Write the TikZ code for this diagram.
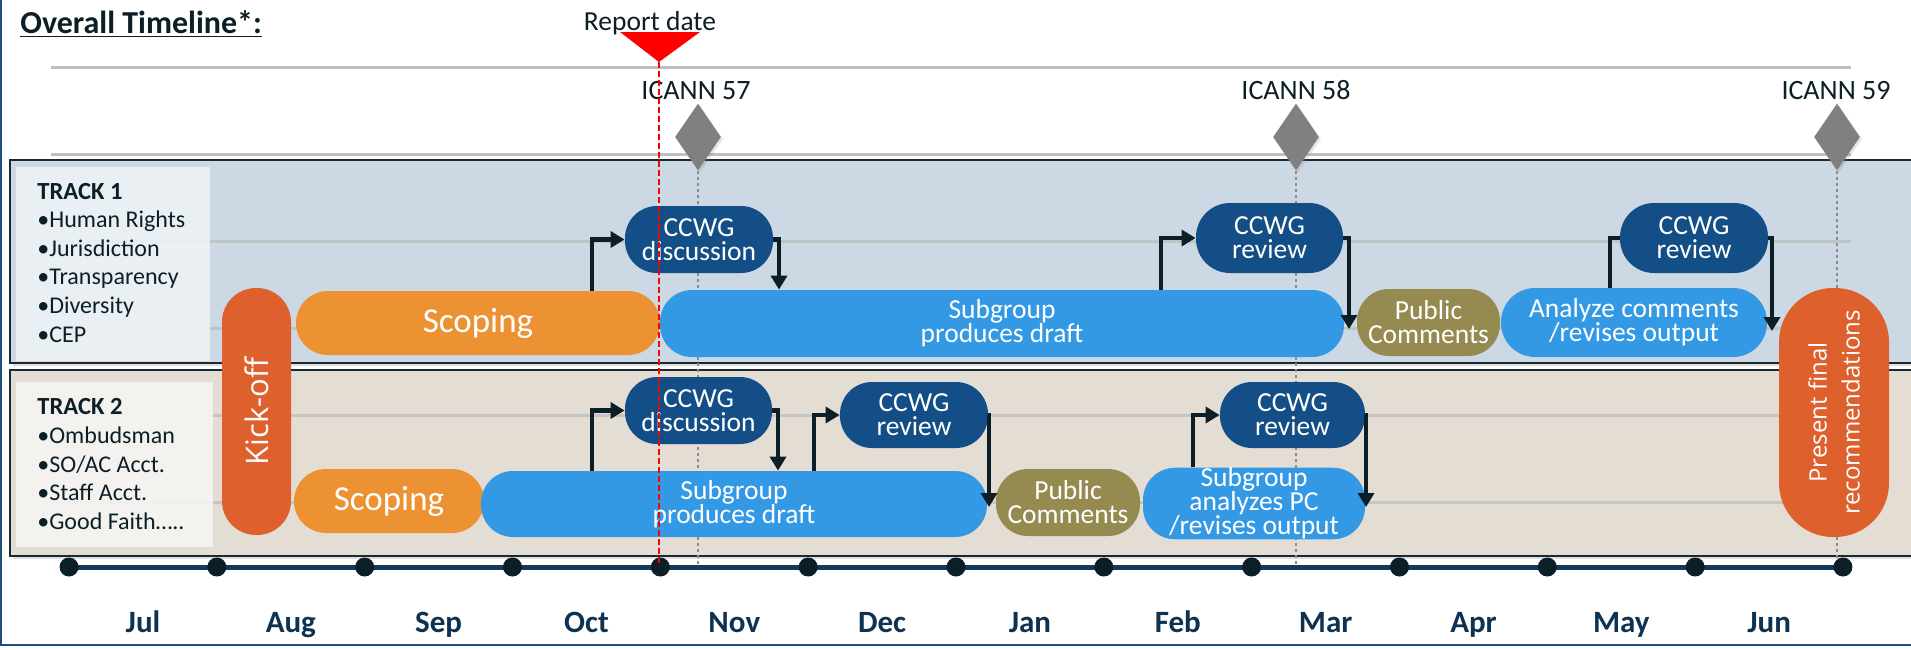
\documentclass[tikz,border=0pt]{standalone}
\usepackage{fontspec}
\setmainfont{Carlito}
\newfontfamily\osans{Open Sans}
\usetikzlibrary{arrows.meta,calc,shadows,shapes.geometric}
\definecolor{tbone}{HTML}{CCD8E3}
\definecolor{tbonel}{HTML}{EEF2F6}
\definecolor{tbtwo}{HTML}{E4DDD4}
\definecolor{tbtwol}{HTML}{F6F5F3}
\definecolor{dblue}{HTML}{134F86}
\definecolor{bblue}{HTML}{3399E5}
\definecolor{orng}{HTML}{EC9233}
\definecolor{redor}{HTML}{DE612D}
\definecolor{olivec}{HTML}{958B50}
\definecolor{arrowc}{HTML}{0C1E26}
\definecolor{navy}{HTML}{14395C}
\definecolor{monthc}{HTML}{0E3252}
\definecolor{lgray}{HTML}{BFBFBF}
\definecolor{diamc}{HTML}{808080}
\definecolor{txt}{HTML}{0D1F26}
\definecolor{framec}{HTML}{1F4E79}
\definecolor{borderc}{HTML}{1A2A33}
\definecolor{dotc}{HTML}{8C8C8C}
\tikzset{
  pill/.style={rectangle, rounded corners=16pt, inner sep=0pt, text=white, align=center,
    font=\fontsize{13.75}{12}\selectfont},
  arr/.style={line width=2.2pt, draw=arrowc, -{Triangle[length=7pt,width=8pt]}},
  plainln/.style={line width=2.2pt, draw=arrowc},
  lbl/.style={anchor=base west, inner sep=0pt, text=txt, font=\fontsize{12}{14}\selectfont},
  month/.style={anchor=base, inner sep=0pt, text=monthc, font=\bfseries\fontsize{15.5}{18}\selectfont},
  icann/.style={anchor=base, inner sep=0pt, text=txt, font=\fontsize{14}{16}\selectfont},
  dia/.style={diamond, fill=diamc, inner sep=0pt, minimum width=23pt, minimum height=33.5pt,
    drop shadow={opacity=0.2, shadow xshift=1pt, shadow yshift=-1pt}},
  tdot/.style={circle, fill=arrowc, inner sep=0pt, minimum size=9.5pt},
  gline/.style={draw=lgray, line width=1.5pt},
  vdots/.style={draw=dotc, line width=1pt, dash pattern=on 1.5pt off 1.5pt},
  trackbox/.style={draw=borderc, line width=1pt, drop shadow={opacity=0.25, shadow xshift=1.5pt, shadow yshift=-1.5pt}}
}
\begin{document}
\begin{tikzpicture}[x=0.5pt,y=-0.5pt]
\useasboundingbox[fill=white] (0,0) rectangle (1911,649);
% frame
\draw[framec, line width=1pt] (1,0) -- (1,645) -- (1911,645);
% title
\node[anchor=base west, inner sep=0pt, text=txt, font=\bfseries\fontsize{16}{18}\selectfont] (title) at (20,33) {\underline{Overall Timeline*:}};
% top gray lines
\draw[gline] (51,67) -- (1851,67);
\draw[gline] (51,154) -- (1851,154);
% ICANN labels
\node[icann] (l57) at (696,99) {ICANN 57};
\node[icann] (l58) at (1296,99) {ICANN 58};
\node[icann] (l59) at (1836,99) {ICANN 59};
% track boxes
\fill[tbone, trackbox] (10,160) rectangle (1920,363);
\fill[tbtwo, trackbox] (10,370) rectangle (1920,556);
% inner faint lines
\draw[gline, opacity=0.8] (51,241) -- (1851,241);
\draw[gline, opacity=0.8] (51,328) -- (1851,328);
\draw[gline, opacity=0.8] (51,415) -- (1851,415);
\draw[gline, opacity=0.8] (51,502) -- (1851,502);
% label boxes
\fill[tbonel, opacity=0.9] (16,167) rectangle (210,361);
\fill[tbtwol, opacity=0.9] (16,382) rectangle (213,547);
\node[lbl, font=\bfseries\fontsize{12.3}{14}\selectfont] (t1h) at (37,199) {TRACK 1};
\node[lbl] (t1a) at (37,227) {•Human Rights};
\node[lbl] (t1b) at (37,256) {•Jurisdiction};
\node[lbl] (t1c) at (37,284) {•Transparency};
\node[lbl] (t1d) at (37,313) {•Diversity};
\node[lbl] (t1e) at (37,342) {•CEP};
\node[lbl, font=\bfseries\fontsize{12.3}{14}\selectfont] (t2h) at (37,414) {TRACK 2};
\node[lbl] (t2a) at (37,443) {•Ombudsman};
\node[lbl] (t2b) at (37,472) {•SO/AC Acct.};
\node[lbl] (t2c) at (37,500) {•Staff Acct.};
\node[lbl] (t2d) at (37,529) {•Good Faith…..};
% diamonds
\node[dia] (ic57) at (698,137) {};
\node[dia] (ic58) at (1296,137) {};
\node[dia] (ic59) at (1837,137) {};
\coordinate (e57) at (698,567);
\coordinate (e58) at (1296,567);
\coordinate (e59) at (1837,567);
\draw[vdots] (ic57.south) -- (e57);
\draw[vdots] (ic58.south) -- (e58);
\draw[vdots] (ic59.south) -- (e59);
% timeline
\draw[navy, line width=2.5pt] (69,567) -- (1843,567);
\foreach \i in {0,...,12} { \node[tdot] (d\i) at ({69+147.83*\i},567) {}; }
\foreach \m [count=\i from 0] in {Jul,Aug,Sep,Oct,Nov,Dec,Jan,Feb,Mar,Apr,May,Jun} {
  \node[month] (m\i) at ({143+147.83*\i},632) {\m}; }
% nodes track 1
\node[pill, fill=redor, rotate=90, minimum width=123.5pt, minimum height=34.5pt, rounded corners=17pt,
  font=\osans\fontsize{15.5}{18}\selectfont] (kick) at (256.5,411.5) {Kick-off};
\node[pill, fill=orng, minimum width=182pt, minimum height=32pt, font=\fontsize{17.5}{20}\selectfont] (sc1) at (478,323) {Scoping};
\node[pill, fill=dblue, minimum width=74pt, minimum height=33.5pt] (cd1) at (699,239.5) {CCWG\\discussion};
\node[pill, fill=bblue, minimum width=342pt, minimum height=33.5pt] (sg1) at (1002,323.5) {Subgroup\\produces draft};
\node[pill, fill=dblue, minimum width=73.5pt, minimum height=35pt, rounded corners=17pt] (cr1) at (1269.5,238) {CCWG\\review};
\node[pill, fill=olivec, minimum width=71.5pt, minimum height=33.5pt] (pc1) at (1428.5,322.5) {Public\\Comments};
\node[pill, fill=bblue, minimum width=133pt, minimum height=34.5pt, rounded corners=17pt] (an1) at (1634,322.5) {Analyze comments\\/revises output};
\node[pill, fill=dblue, minimum width=74pt, minimum height=35pt, rounded corners=17pt] (cr2) at (1694,238) {CCWG\\review};
\node[pill, fill=redor, rotate=90, minimum width=124.5pt, minimum height=55pt, rounded corners=27pt,
  font=\osans\fontsize{12}{16.5}\selectfont] (pf) at (1834,412.5) {Present final\\recommendations};
% nodes track 2
\node[pill, fill=orng, minimum width=95pt, minimum height=32pt, font=\fontsize{17.5}{20}\selectfont] (sc2) at (389,501) {Scoping};
\node[pill, fill=bblue, minimum width=253pt, minimum height=33pt] (sg2) at (734,504) {Subgroup\\produces draft};
\node[pill, fill=dblue, minimum width=73.5pt, minimum height=33.5pt] (cd2) at (698.5,410.5) {CCWG\\discussion};
\node[pill, fill=dblue, minimum width=74pt, minimum height=33pt] (cr3) at (914,415) {CCWG\\review};
\node[pill, fill=olivec, minimum width=72pt, minimum height=33.5pt] (pc2) at (1068,502.5) {Public\\Comments};
\node[pill, fill=bblue, minimum width=111pt, minimum height=33.5pt] (sa2) at (1254,503.5) {Subgroup\\analyzes PC\\/revises output};
\node[pill, fill=dblue, minimum width=72.5pt, minimum height=33pt] (cr4) at (1292.5,415) {CCWG\\review};
% connectors track 1
\coordinate (g1) at (1349,329);
\coordinate (g2) at (1772,331);
\draw[arr] ($(sc1.north)+(114,0)$) |- (cd1.west);
\draw[arr] (cd1.east) -| ($(sg1.north)+(-223,0)$);
\draw[arr] ($(sg1.north)+(159,0)$) |- (cr1.west);
\draw[arr] (cr1.east) -| (g1);
\draw[plainln] ($(an1.north)+(-24,0)$) |- (cr2.west);
\draw[arr] (cr2.east) -| (g2);
% connectors track 2
\coordinate (g3) at (989,507);
\coordinate (g4) at (1366,507);
\draw[arr] ($(sg2.north)+(-142,0)$) |- (cd2.west);
\draw[arr] (cd2.east) -| ($(sg2.north)+(44,0)$);
\draw[arr] ($(sg2.north)+(80,0)$) |- (cr3.west);
\draw[arr] (cr3.east) -| (g3);
\draw[arr] ($(sa2.north)+(-61,0)$) |- (cr4.west);
\draw[arr] (cr4.east) -| (g4);
% report date
\node[anchor=base, inner sep=0pt, text=txt, font=\fontsize{13.75}{16}\selectfont] (rd) at (650,30) {Report date};
\fill[red] (620,32) -- (700,32) -- (659,62) -- cycle;
\coordinate (rtop) at (659,62);
\coordinate (rbot) at (659,565);
\draw[red, line width=0.7pt, dash pattern=on 3pt off 1.5pt] (rtop) -- (rbot);
\end{tikzpicture}
\end{document}
